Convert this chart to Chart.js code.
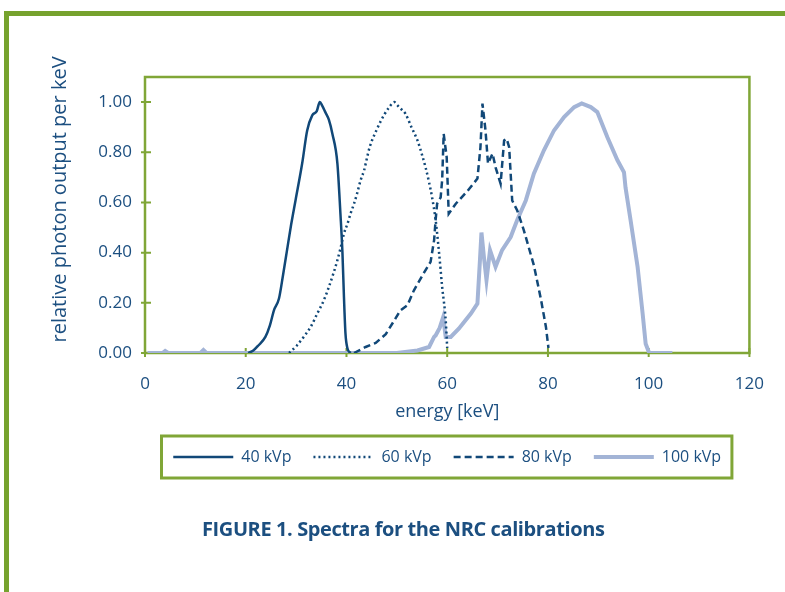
<!DOCTYPE html>
<html>
<head>
<meta charset="utf-8">
<script src="https://cdn.jsdelivr.net/npm/chart.js@4.4.1/dist/chart.umd.min.js"></script>
<style>
   body { margin: 0; background: #fff; }
   .frame {
      position: absolute; left: 4px; top: 11px; width: 800px; height: 600px;
      border-left: 5px solid #76a22e; border-top: 5px solid #76a22e;
   }
   #wrap { position: absolute; left: 0; top: 0; width: 785px; height: 592px; }
   .caption {
      position: absolute; left: 202px; top: 515px;
      font: bold 20px 'Open Sans', sans-serif; color: #1c4f80; letter-spacing: -0.4px;
   }
</style>
</head>
<body>
<div class="frame"></div>
<div id="wrap"><canvas id="spectra-chart"></canvas></div>
<div class="caption">FIGURE 1. Spectra for the NRC calibrations</div>

<script>
/*=======================================
 data (energy in keV, relative output)
========================================*/
var labels = ['40 kVp', '60 kVp', '80 kVp', '100 kVp'];

var kv40E = [20.5, 21.5, 22.5, 23.9, 24.8, 25.6, 26.6, 27.4, 28.2, 29.0, 29.9, 31.2, 32.2, 33.2, 34.1, 34.7, 35.2, 35.8, 36.5, 37.2, 38.2, 38.8, 39.2, 39.5, 39.8, 40.2, 40.8];
var kv40V = [0, 0.01, 0.03, 0.064, 0.11, 0.17, 0.217, 0.31, 0.41, 0.51, 0.61, 0.755, 0.887, 0.947, 0.964, 1.0, 0.985, 0.96, 0.93, 0.874, 0.755, 0.555, 0.40, 0.223, 0.078, 0.018, 0];

var kv60E = [28.6, 30.2, 31.5, 32.9, 34.2, 35.5, 36.5, 37.5, 38.2, 38.8, 39.5, 40.2, 40.8, 41.5, 42.1, 42.8, 43.5, 44.1, 44.6, 46.0, 47.5, 48.5, 49.5, 50.0, 50.7, 51.7, 52.9, 54.1, 55.0, 55.7, 56.4, 57.0, 57.7, 58.4, 59.0, 59.7, 60.0];
var kv60V = [0, 0.031, 0.064, 0.104, 0.157, 0.21, 0.263, 0.323, 0.37, 0.416, 0.476, 0.515, 0.555, 0.595, 0.635, 0.688, 0.728, 0.78, 0.82, 0.89, 0.95, 0.98, 1.0, 0.99, 0.975, 0.954, 0.9, 0.847, 0.79, 0.74, 0.68, 0.62, 0.53, 0.396, 0.263, 0.13, 0.02];

var kv80E = [41.5, 43.8, 45.8, 47.8, 49.5, 50.7, 52.1, 53.4, 55.4, 56.7, 57.4, 57.7, 58.0, 58.7, 59.0, 59.3, 59.9, 60.3, 61.7, 64.0, 66.0, 66.6, 67.0, 67.6, 68.1, 69.0, 69.6, 70.6, 71.3, 71.8, 72.3, 72.9, 73.9, 75.2, 76.2, 77.2, 78.6, 79.6, 80.1];
var kv80V = [0, 0.024, 0.04, 0.075, 0.13, 0.17, 0.19, 0.25, 0.32, 0.363, 0.45, 0.53, 0.595, 0.62, 0.69, 0.874, 0.78, 0.555, 0.595, 0.645, 0.695, 0.82, 0.994, 0.887, 0.755, 0.795, 0.74, 0.675, 0.847, 0.854, 0.82, 0.608, 0.568, 0.49, 0.42, 0.35, 0.215, 0.104, 0.02];

var kv100E = [0.5, 3.5, 4.0, 4.6, 11, 11.6, 12.2, 30, 50, 54.1, 56.4, 57.4, 57.7, 58.5, 59.2, 59.7, 60.7, 62.3, 64.7, 66.0, 66.5, 66.8, 67.3, 67.8, 68.5, 69.6, 70.9, 72.6, 73.9, 75.6, 77.2, 79.2, 81.2, 83.2, 85.2, 86.7, 88.5, 89.8, 91.8, 93.8, 95.1, 95.4, 96.4, 97.8, 98.8, 99.4, 100.1, 104.7];
var kv100V = [0, 0, 0.008, 0, 0, 0.012, 0, 0, 0, 0.01, 0.024, 0.064, 0.07, 0.1, 0.143, 0.064, 0.064, 0.097, 0.157, 0.197, 0.37, 0.48, 0.38, 0.29, 0.41, 0.343, 0.41, 0.462, 0.53, 0.608, 0.715, 0.808, 0.887, 0.94, 0.98, 0.995, 0.98, 0.96, 0.86, 0.768, 0.72, 0.66, 0.53, 0.343, 0.157, 0.037, 0, 0];

var xTicks = [0, 20, 40, 60, 80, 100, 120];
var yTicks = [0, 0.2, 0.4, 0.6, 0.8, 1.0];

// turn two arrays into {x, y} points
function pts(xs, ys) {
   return xs.map((x, i) => ({ x: x, y: ys[i] }));
}

var green = '#80a637';
var textBlue = '#1c4f80';
var darkBlue = '#114878';
var lightBlue = '#a3b4d6';

Chart.defaults.font.family = "'Open Sans', sans-serif";
Chart.defaults.color = textBlue;

/*=======================================
 plot frame + tick marks that cross the axis
========================================*/
const framePlugin = {
   id: 'frame',
   beforeDatasetsDraw(chart) {
      const { ctx, chartArea: a, scales } = chart;
      ctx.save();
      ctx.strokeStyle = green;
      ctx.lineWidth = 2.5;
      ctx.strokeRect(a.left, a.top, a.right - a.left, a.bottom - a.top);
      ctx.lineWidth = 2;
      ctx.beginPath();
      yTicks.forEach(v => {
         let py = scales.y.getPixelForValue(v);
         ctx.moveTo(a.left - 4, py);
         ctx.lineTo(a.left + 6, py);
      });
      xTicks.forEach(v => {
         let px = scales.x.getPixelForValue(v);
         ctx.moveTo(px, a.bottom - 5);
         ctx.lineTo(px, a.bottom + 4);
      });
      ctx.stroke();
      ctx.restore();
   },
   afterDraw(chart) {
      // box around the legend
      const { ctx, chartArea: a, legend } = chart;
      if (!legend.legendHitBoxes.length) return;
      let hb = legend.legendHitBoxes[0];
      let cy = hb.top + hb.height / 2;
      ctx.save();
      ctx.strokeStyle = green;
      ctx.lineWidth = 3;
      ctx.strokeRect(a.left + 16.5, cy - 21, a.right - a.left - 34, 42);
      ctx.restore();
   }
};

var ctx = document.getElementById('spectra-chart');

var spectraChart = new Chart(ctx, {
   type: 'line',
   data: {
      datasets: [
         {
            label: labels[0],
            data: pts(kv40E, kv40V),
            borderColor: darkBlue,
            borderWidth: 2.5,
            cubicInterpolationMode: 'monotone'
         },
         {
            label: labels[1],
            data: pts(kv60E, kv60V),
            borderColor: darkBlue,
            borderWidth: 2.5,
            borderDash: [2, 3],
            cubicInterpolationMode: 'monotone'
         },
         {
            label: labels[2],
            data: pts(kv80E, kv80V),
            borderColor: darkBlue,
            borderWidth: 2.5,
            borderDash: [7, 4]
         },
         {
            label: labels[3],
            data: pts(kv100E, kv100V),
            borderColor: lightBlue,
            borderWidth: 4
         }
      ]
   },
   options: {
      responsive: true,
      maintainAspectRatio: false,
      animation: false,
      elements: { point: { radius: 0 }, line: { tension: 0 } },
      layout: { padding: { top: 77, right: 35, left: 0, bottom: 117 } },
      scales: {
         x: {
            type: 'linear',
            min: 0,
            max: 120,
            afterFit: s => { s.height = 74; },
            grid: { display: false, drawTicks: false },
            border: { display: false },
            ticks: { stepSize: 20, padding: 21, font: { size: 17 }, color: textBlue },
            title: { display: true, text: 'energy [keV]', font: { size: 18 }, color: textBlue, padding: { top: 4, bottom: 4 } }
         },
         y: {
            min: 0,
            max: 1.1,
            afterFit: s => { s.width = 145; },
            afterBuildTicks: s => { s.ticks = s.ticks.filter(t => t.value <= 1.0001); },
            grid: { display: false, drawTicks: false },
            border: { display: false },
            ticks: {
               stepSize: 0.2,
               padding: 13,
               font: { size: 17 },
               color: textBlue,
               callback: v => v.toFixed(2)
            },
            // leading spaces nudge the rotated title up a little, as in the figure
            title: { display: true, text: '      relative photon output per keV', font: { size: 20 }, color: textBlue, padding: { top: 48, bottom: 0 } }
         }
      },
      plugins: {
         legend: {
            position: 'bottom',
            fullSize: false,
            labels: {
               usePointStyle: true,
               pointStyleWidth: 60,
               padding: 22,
               font: { size: 16 },
               color: textBlue,
               // point style legends take the point's style, so build the items from the lines
               generateLabels: chart => chart.data.datasets.map((ds, i) => ({
                  text: ds.label,
                  datasetIndex: i,
                  pointStyle: 'line',
                  strokeStyle: ds.borderColor,
                  fillStyle: ds.borderColor,
                  lineWidth: ds.borderWidth,
                  lineDash: ds.borderDash || [],
                  fontColor: textBlue,
                  hidden: false
               }))
            }
         },
         tooltip: { enabled: false }
      }
   },
   plugins: [framePlugin]
});
</script>
</body>
</html>
